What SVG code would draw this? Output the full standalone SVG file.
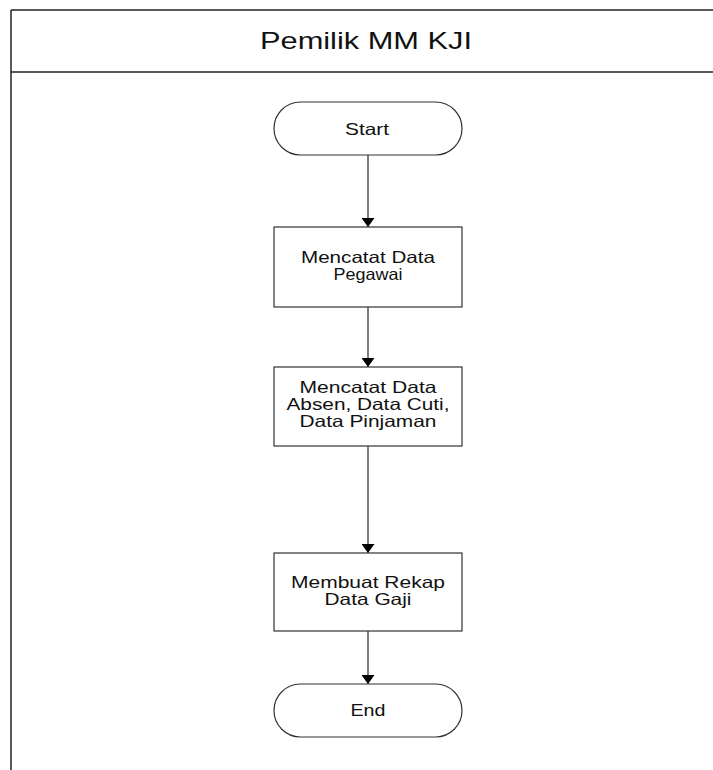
<svg xmlns="http://www.w3.org/2000/svg" width="713" height="770" viewBox="0 0 713 770">
  <style>
    .frame { fill: none; stroke: #222; stroke-width: 1.5; }
    .shape { fill: #fff; stroke: #333; stroke-width: 1.2; }
    .conn { fill: none; stroke: #555; stroke-width: 1.5; }
    .lbl { font-family: "Liberation Sans", Arial, sans-serif; font-size: 16.5px; fill: #111; text-anchor: middle; }
    .title { font-family: "Liberation Sans", Arial, sans-serif; font-size: 24px; fill: #111; text-anchor: middle; }
  </style>
  <defs>
    <marker id="arrow" markerWidth="9" markerHeight="13" refX="9" refY="6.5" orient="auto" markerUnits="userSpaceOnUse">
      <path d="M0,0 L9,6.5 L0,13 Z" fill="#000"/>
    </marker>
  </defs>

  <rect width="713" height="770" fill="#fff"/>

  <!-- swimlane frame -->
  <g id="lane">
    <line class="frame" x1="11" y1="10" x2="713" y2="10" stroke="#444" stroke-width="2"/>
    <line class="frame" x1="11" y1="72" x2="713" y2="72"/>
    <line class="frame" x1="11" y1="10" x2="11" y2="770" stroke-width="2"/>
    <text class="title" x="366" y="49" textLength="212" lengthAdjust="spacingAndGlyphs">Pemilik MM KJI</text>
  </g>

  <!-- connectors -->
  <g id="connectors">
    <line class="conn" x1="368" y1="155" x2="368" y2="227" marker-end="url(#arrow)"/>
    <line class="conn" x1="368" y1="307" x2="368" y2="367" marker-end="url(#arrow)"/>
    <line class="conn" x1="368" y1="446" x2="368" y2="553" marker-end="url(#arrow)"/>
    <line class="conn" x1="368" y1="631" x2="368" y2="684" marker-end="url(#arrow)"/>
  </g>

  <g id="start">
    <rect class="shape" x="274" y="102" width="188" height="53" rx="26.5" ry="26.5"/>
    <text class="lbl" x="367" y="135" textLength="44" lengthAdjust="spacingAndGlyphs">Start</text>
  </g>

  <g id="catat-pegawai">
    <rect class="shape" x="274" y="227" width="188" height="80"/>
    <text class="lbl" x="368" y="263" textLength="134" lengthAdjust="spacingAndGlyphs">Mencatat Data</text>
    <text class="lbl" x="368" y="280" textLength="69" lengthAdjust="spacingAndGlyphs">Pegawai</text>
  </g>

  <g id="catat-absen">
    <rect class="shape" x="274" y="367" width="188" height="79"/>
    <text class="lbl" x="368" y="393" textLength="137" lengthAdjust="spacingAndGlyphs">Mencatat Data</text>
    <text class="lbl" x="368" y="410" textLength="163" lengthAdjust="spacingAndGlyphs">Absen, Data Cuti,</text>
    <text class="lbl" x="368" y="427" textLength="137" lengthAdjust="spacingAndGlyphs">Data Pinjaman</text>
  </g>

  <g id="rekap-gaji">
    <rect class="shape" x="274" y="553" width="188" height="78"/>
    <text class="lbl" x="368" y="588" textLength="154" lengthAdjust="spacingAndGlyphs">Membuat Rekap</text>
    <text class="lbl" x="368" y="605" textLength="87" lengthAdjust="spacingAndGlyphs">Data Gaji</text>
  </g>

  <g id="end">
    <rect class="shape" x="274" y="684" width="188" height="53" rx="26.5" ry="26.5"/>
    <text class="lbl" x="368" y="716" textLength="35" lengthAdjust="spacingAndGlyphs">End</text>
  </g>
</svg>
